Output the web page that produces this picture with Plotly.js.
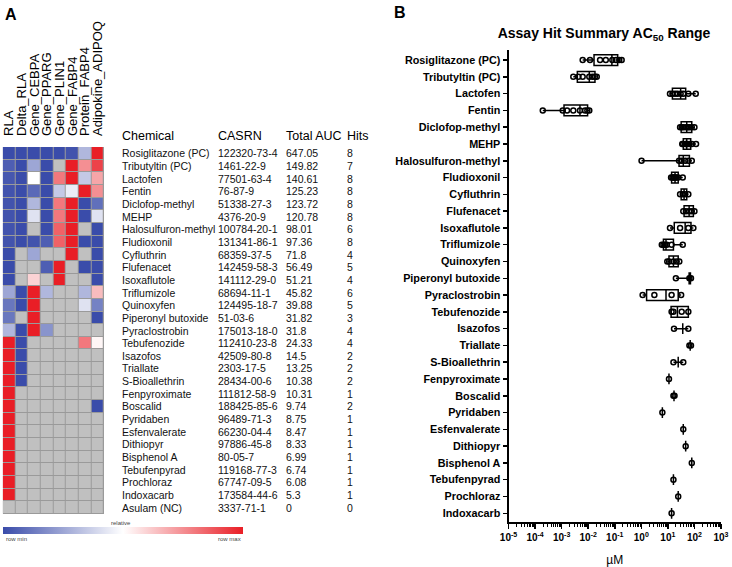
<!DOCTYPE html>
<html><head><meta charset="utf-8">
<script src="https://cdn.plot.ly/plotly-3.0.1.min.js"></script>
<style>html,body{margin:0;padding:0;background:#fff}#chart{width:732px;height:567px}</style>
</head><body><div id="chart"></div>
<script>
const heatColumns = ['RLA','Delta_RLA','Gene_CEBPA','Gene_PPARG','Gene_PLIN1','Gene_FABP4','Protein_FABP4','Adipokine_ADIPOQ'];
const chemicals = ['Rosiglitazone (PC)','Tributyltin (PC)','Lactofen','Fentin','Diclofop-methyl','MEHP','Halosulfuron-methyl','Fludioxonil','Cyfluthrin','Flufenacet','Isoxaflutole','Triflumizole','Quinoxyfen','Piperonyl butoxide','Pyraclostrobin','Tebufenozide','Isazofos','Triallate','S-Bioallethrin','Fenpyroximate','Boscalid','Pyridaben','Esfenvalerate','Dithiopyr','Bisphenol A','Tebufenpyrad','Prochloraz','Indoxacarb','Asulam (NC)'];
const casrn = ['122320-73-4','1461-22-9','77501-63-4','76-87-9','51338-27-3','4376-20-9','100784-20-1','131341-86-1','68359-37-5','142459-58-3','141112-29-0','68694-11-1','124495-18-7','51-03-6','175013-18-0','112410-23-8','42509-80-8','2303-17-5','28434-00-6','111812-58-9','188425-85-6','96489-71-3','66230-04-4','97886-45-8','80-05-7','119168-77-3','67747-09-5','173584-44-6','3337-71-1'];
const totalAUC = [647.05,149.82,140.61,125.23,123.72,120.78,98.01,97.36,71.8,56.49,51.21,45.82,39.88,31.82,31.8,24.33,14.5,13.25,10.38,10.31,9.74,8.75,8.47,8.33,6.99,6.74,6.08,5.3,0];
const hits = [8,7,8,8,8,8,6,8,4,5,4,6,5,3,4,4,2,2,2,1,2,1,1,1,1,1,1,1,0];
const N = null;
const heatValues = [
 [0,0,0,0,0,0.02,0.3,1],
 [0.05,0,0.25,0,N,1,0.75,0.92],
 [0.03,0,0.5,0,0.8,1,0.35,0.7],
 [0.02,0,0.08,0,0.35,0.45,1,0.75],
 [0.02,0,0.3,0,0.8,1,0,0.1],
 [0.02,0,0.42,0,0.8,1,0,0.42],
 [0.02,0,N,0,0.85,1,N,0],
 [0.02,0,0.02,0.05,0.85,1,0,0],
 [0,N,0.25,N,N,1,N,0],
 [0,N,N,0.05,1,N,0,0],
 [0,N,0.6,N,1,N,N,0],
 [0.25,0,1,0.3,N,N,0.3,0.65],
 [0.12,0,1,N,N,N,0.42,0.15],
 [0.12,N,1,N,N,N,N,0],
 [0.3,0,1,0.2,N,N,N,N],
 [1,0,N,N,N,N,0.8,0.52],
 [1,0,N,N,N,N,N,N],
 [1,0,N,N,N,N,N,N],
 [1,0,N,N,N,N,N,N],
 [1,N,N,N,N,N,N,N],
 [1,N,N,N,N,N,N,0],
 [1,N,N,N,N,N,N,N],
 [1,N,N,N,N,N,N,N],
 [1,N,N,N,N,N,N,N],
 [1,N,N,N,N,N,N,N],
 [1,N,N,N,N,N,N,N],
 [1,N,N,N,N,N,N,N],
 [1,N,N,N,N,N,N,N],
 [N,N,N,N,N,N,N,N]
];
const boxChemicals = ['Rosiglitazone (PC)','Tributyltin (PC)','Lactofen','Fentin','Diclofop-methyl','MEHP','Halosulfuron-methyl','Fludioxonil','Cyfluthrin','Flufenacet','Isoxaflutole','Triflumizole','Quinoxyfen','Piperonyl butoxide','Pyraclostrobin','Tebufenozide','Isazofos','Triallate','S-Bioallethrin','Fenpyroximate','Boscalid','Pyridaben','Esfenvalerate','Dithiopyr','Bisphenol A','Tebufenpyrad','Prochloraz','Indoxacarb'];
// AC50 values in µM
const ac50Points = [
 [0.0062,0.0117,0.028,0.046,0.081,0.112,0.148,0.182],
 [0.00275,0.0043,0.0062,0.011,0.0145,0.018,0.021],
 [12.0,14.8,18.6,22.9,30.2,38,58.9,112],
 [0.000195,0.0011,0.0016,0.00275,0.0049,0.0076,0.0093,0.011],
 [28.8,33.1,38,47.9,56.2,64.6,79.4,100],
 [34.7,38,44.7,47.9,53.7,64.6,79.4,115],
 [1.02,26.3,33.1,44.7,58.9,79.4],
 [13.2,14.8,16.2,17.4,19.1,21.4,24.5,36.3],
 [28.8,36.3,44.7,58.9],
 [38,47.9,63.1,79.4,100],
 [12.0,28.8,58.9,91.2],
 [5.9,6.8,7.8,9.1,13.8,36.3],
 [9.5,11.2,16.2,21.4,26.9],
 [20,64.6,74.1],
 [1.12,3.1,13.8,31.6],
 [13.8,16.2,33.1,58.9],
 [17.0,58.9],
 [64.6,74.1],
 [16.2,38],
 [11.0],
 [16.2,17.8],
 [6.2],
 [38],
 [46.8],
 [79.4],
 [16.2],
 [24.5],
 [13.8]
];
const boxQ1 = [0.0166,0.0039,14.8,0.00123,31.6,38,26.3,13.8,31.6,40.7,17.4,6.8,11.0,63.1,1.58,13.2,36.3,69.2,24.5,11.0,17.0,6.2,38,46.8,79.4,16.2,24.5,13.8];
const boxMedian = [0.078,0.011,30.2,0.0049,51.3,51.3,38,18.6,40.7,63.1,44.7,8.5,16.2,66.1,8.5,22.9,36.3,69.2,24.5,11.0,17.0,6.2,38,46.8,79.4,16.2,24.5,13.8];
const boxQ3 = [0.129,0.018,46.8,0.0095,79.4,72.4,64.6,24.5,51.3,91.2,74.1,16.2,24.5,70.8,24.5,58.9,36.3,69.2,24.5,11.0,17.0,6.2,38,46.8,79.4,16.2,24.5,13.8];
const xTickVals = [1e-5,1e-4,1e-3,1e-2,1e-1,1,10,100,1000];
const xTickText = ['10<sup>-5</sup>','10<sup>-4</sup>','10<sup>-3</sup>','10<sup>-2</sup>','10<sup>-1</sup>','10<sup>0</sup>','10<sup>1</sup>','10<sup>2</sup>','10<sup>3</sup>'];

const W = 732, H = 567;
const px = v => v / W, py = v => 1 - v / H;
const colIdx = heatColumns.map((_, i) => i);
const rowIdx = chemicals.map((_, i) => i);
const missing = heatValues.map(r => r.map(v => v === null ? 1 : null));

const traces = [];
traces.push({
  type: 'heatmap', x: colIdx, y: rowIdx, z: missing, xaxis: 'x2', yaxis: 'y2',
  colorscale: [[0, '#c0c0c0'], [1, '#c0c0c0']], showscale: false, xgap: 1, ygap: 1, hoverinfo: 'skip'
});
traces.push({
  type: 'heatmap', x: colIdx, y: rowIdx, z: heatValues, xaxis: 'x2', yaxis: 'y2',
  zmin: 0, zmax: 1, xgap: 1, ygap: 1, hoverinfo: 'skip',
  colorscale: [[0, 'rgb(58,76,170)'], [0.5, 'rgb(255,255,255)'], [1, 'rgb(233,30,38)']],
  colorbar: {orientation: 'h', x: px(123), xanchor: 'center', y: py(534), yanchor: 'bottom',
    len: 240, lenmode: 'pixels', thickness: 7, showticklabels: false, ticks: '', outlinewidth: 0, xpad: 0, ypad: 0}
});

const mins = ac50Points.map(a => Math.min(...a));
const maxs = ac50Points.map(a => Math.max(...a));
traces.push({
  type: 'box', orientation: 'h', y: boxChemicals, q1: boxQ1, median: boxMedian, q3: boxQ3,
  lowerfence: mins, upperfence: maxs, xaxis: 'x', yaxis: 'y',
  fillcolor: 'rgba(255,255,255,0)', line: {color: 'black', width: 1.5}, whiskerwidth: 0, width: 0.64,
  boxpoints: false, hoverinfo: 'skip', showlegend: false
});
const ptX = [], ptY = [];
ac50Points.forEach((arr, i) => arr.forEach(v => { ptX.push(v); ptY.push(boxChemicals[i]); }));
traces.push({
  type: 'scatter', mode: 'markers', x: ptX, y: ptY, xaxis: 'x', yaxis: 'y',
  marker: {symbol: 'circle-open', size: 5, color: 'black', line: {width: 1.5, color: 'black'}},
  hoverinfo: 'skip', showlegend: false, cliponaxis: false
});

const ann = [];
const F = 'Arial, Liberation Sans, sans-serif';
ann.push({text: '<b>A</b>', xref: 'paper', yref: 'paper', x: px(3), y: py(4), xanchor: 'left', yanchor: 'top', showarrow: false, font: {family: F, size: 16, color: 'black'}});
ann.push({text: '<b>B</b>', xref: 'paper', yref: 'paper', x: px(392), y: py(2), xanchor: 'left', yanchor: 'top', showarrow: false, font: {family: F, size: 16, color: 'black'}});
const tableCols = [px(120), px(216), px(284), px(345)];
const headers = ['Chemical', 'CASRN', 'Total AUC', 'Hits'];
headers.forEach((h, j) => ann.push({text: h, xref: 'paper', yref: 'paper', x: tableCols[j], y: py(136.5), xanchor: 'left', yanchor: 'middle', showarrow: false, font: {family: F, size: 12.5, color: 'black'}}));
chemicals.forEach((c, i) => {
  const row = [c, casrn[i], String(totalAUC[i]), String(hits[i])];
  row.forEach((t, j) => ann.push({text: t, xref: 'paper', yref: 'y2', x: tableCols[j], y: i, xanchor: 'left', yanchor: 'middle', showarrow: false, font: {family: F, size: 10.5, color: '#111'}}));
});
ann.push({text: 'relative', xref: 'paper', yref: 'paper', x: px(121), y: py(523), xanchor: 'center', yanchor: 'middle', showarrow: false, font: {family: F, size: 6, color: '#444'}});
ann.push({text: 'row min', xref: 'paper', yref: 'paper', x: px(4), y: py(539), xanchor: 'left', yanchor: 'middle', showarrow: false, font: {family: F, size: 6, color: '#444'}});
ann.push({text: 'row max', xref: 'paper', yref: 'paper', x: px(243), y: py(539), xanchor: 'right', yanchor: 'middle', showarrow: false, font: {family: F, size: 6, color: '#444'}});

const layout = {
  width: W, height: H, margin: {l: 0, r: 0, t: 0, b: 0}, paper_bgcolor: 'white', plot_bgcolor: 'rgba(0,0,0,0)',
  showlegend: false,
  title: {text: '<b>Assay Hit Summary AC<sub>50</sub> Range</b>', x: px(604), xanchor: 'center', y: py(33), yanchor: 'middle', font: {family: F, size: 14, color: 'black'}},
  xaxis: {domain: [px(508.5), px(721)], type: 'log', range: [-5, 3], anchor: 'y',
    tickvals: xTickVals, ticktext: xTickText, ticks: 'outside', ticklen: 5, tickwidth: 1.5, tickcolor: 'black',
    minor: {ticks: 'outside', ticklen: 3, tickwidth: 1, tickcolor: 'black', dtick: 'D1', showgrid: false},
    showline: true, linewidth: 2, linecolor: 'black', showgrid: false, zeroline: false,
    tickfont: {family: F, size: 10, color: 'black', weight: 'bold'},
    title: {text: 'µM', standoff: 18, font: {family: F, size: 12, color: 'black'}}},
  yaxis: {domain: [py(522), py(50)], type: 'category', categoryorder: 'array', categoryarray: boxChemicals,
    range: [27.52, -0.6], anchor: 'x', ticks: 'outside', ticklen: 4, tickwidth: 1.5, tickcolor: 'black',
    showline: true, linewidth: 2, linecolor: 'black', showgrid: false, zeroline: false,
    tickfont: {family: F, size: 10.8, color: 'black', weight: 'bold'}},
  xaxis2: {domain: [px(2.7), px(104)], range: [-0.5, 7.5], anchor: 'y2', side: 'top',
    tickmode: 'array', tickvals: colIdx, ticktext: heatColumns, tickangle: -90, ticks: '',
    ticklabelstandoff: 10, showline: false, showgrid: false, zeroline: false,
    tickfont: {family: F, size: 13, color: 'black'}},
  yaxis2: {domain: [py(514), py(147)], range: [28.5, -0.5], anchor: 'x2', visible: false},
  shapes: [{type: 'rect', xref: 'x2', yref: 'y2', x0: -0.5, x1: heatColumns.length - 0.5, y0: -0.5, y1: chemicals.length - 0.5,
    fillcolor: '#9a9a9a', line: {width: 0}, layer: 'below'}],
  annotations: ann
};
Plotly.newPlot('chart', traces, layout, {staticPlot: true, displayModeBar: false});
</script>
</body></html>
